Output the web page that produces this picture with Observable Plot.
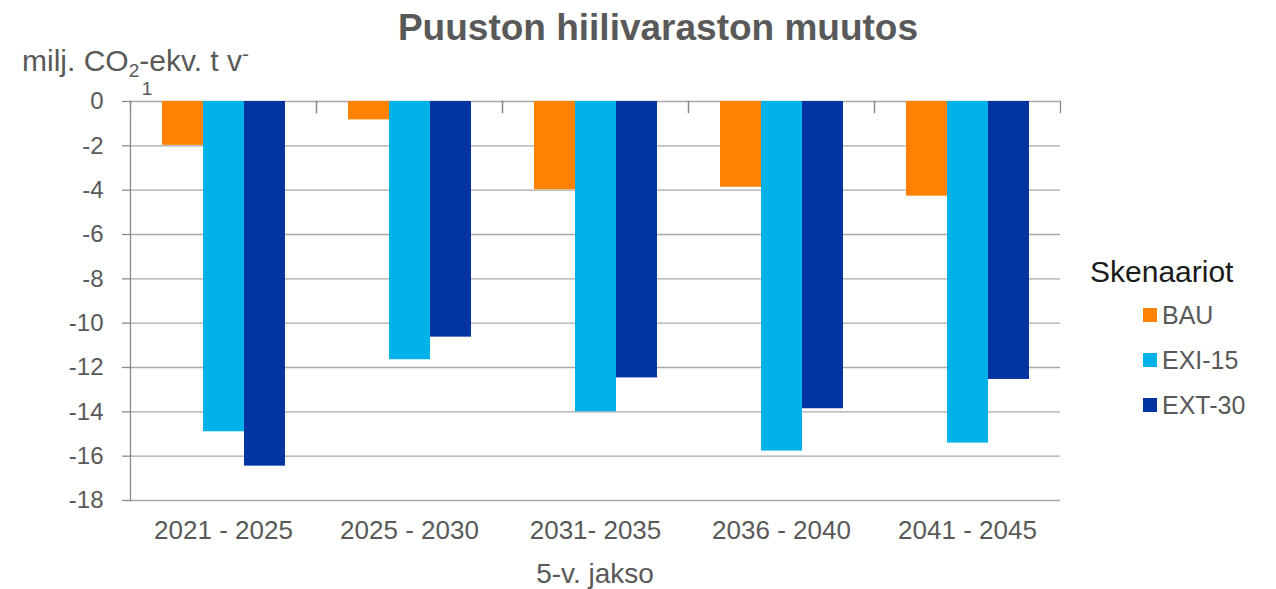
<!DOCTYPE html>
<html>
<head>
<meta charset="utf-8">
<script src="https://cdn.jsdelivr.net/npm/d3@7"></script>
<script src="https://cdn.jsdelivr.net/npm/@observablehq/plot@0.6"></script>
<style>
  html, body { margin: 0; padding: 0; background: #fff; }
  #wrap { position: relative; width: 1276px; height: 589px; font-family: "Liberation Sans", Arial, sans-serif; }
  #wrap > svg { position: absolute; left: 0; top: 0; }
</style>
</head>
<body>
<div id="wrap"></div>
<script>
const periods = ["2021 - 2025", "2025 - 2030", "2031- 2035", "2036 - 2040", "2041 - 2045"];
const scenarios = ["BAU", "EXI-15", "EXT-30"];
const bau   = [-1.98, -0.83, -3.98, -3.87, -4.27];
const exi15 = [-14.9, -11.65, -14.0, -15.77, -15.41];
const ext30 = [-16.45, -10.63, -12.47, -13.86, -12.54];
const yTicks = [0, -2, -4, -6, -8, -10, -12, -14, -16, -18];
const colors = ["#ff8300", "#00b2e8", "#0234a2"];
const titleText = "Puuston hiilivaraston muutos";
const xTitle = "5-v. jakso";
const legendTitle = "Skenaariot";

const series = [bau, exi15, ext30];
const table = [];
periods.forEach((p, i) => scenarios.forEach((s, j) => table.push({period: p, scenario: s, value: series[j][i]})));

const W = 1276, H = 589;
const font = '"Liberation Sans", Arial, sans-serif';

const chart = Plot.plot({
  width: W, height: H,
  marginLeft: 128, marginRight: 214, marginTop: 101, marginBottom: 89,
  style: {fontFamily: font, background: "transparent", overflow: "visible"},
  fx: {domain: periods, padding: 0, label: null},
  x: {domain: scenarios, paddingInner: 0, paddingOuter: 0.75, axis: null},
  y: {domain: [-18, 0], label: null},
  color: {domain: scenarios, range: colors},
  marks: [
    Plot.ruleY(yTicks, {stroke: "#a9a9a9", strokeWidth: 1.3}),
    Plot.barY(table, {fx: "period", x: "scenario", y: "value", fill: "scenario", inset: 0}),
    Plot.frame({anchor: "left", stroke: "#8a8a8a", strokeWidth: 1.3, insetBottom: 388}),
    Plot.frame({anchor: "right", stroke: "#8a8a8a", strokeWidth: 1.3, insetBottom: 388}),
    Plot.frame({anchor: "left", facetAnchor: "left", stroke: "#8a8a8a", strokeWidth: 1.3}),
    Plot.axisY({ticks: yTicks, tickSize: 8, tickPadding: 19, fontSize: 24, fill: "#595959", stroke: "#8a8a8a", strokeWidth: 1.3, label: null, tickFormat: d => String(d).replace("\u2212", "-")}),
    Plot.axisFx({anchor: "bottom", tickSize: 0, tickPadding: 20, fontSize: 26, fill: "#595959", label: null})
  ]
});
const wrap = document.getElementById("wrap");
wrap.appendChild(chart);

// text overlay
const ov = d3.select(wrap).append("svg").attr("width", W).attr("height", H).attr("font-family", font);
ov.append("text").attr("x", 658).attr("y", 40).attr("text-anchor", "middle").attr("font-size", 37).attr("font-weight", "bold").attr("fill", "#595959").text(titleText);
const yl = ov.append("text").attr("x", 22).attr("y", 71).attr("font-size", 30).attr("fill", "#595959");
yl.append("tspan").text("milj. CO");
yl.append("tspan").attr("font-size", 19).attr("dy", 6).text("2");
yl.append("tspan").attr("dy", -6).text("-ekv. t v");
yl.append("tspan").attr("font-size", 21).attr("dy", -10).text("-");
ov.append("text").attr("x", 147).attr("y", 95).attr("text-anchor", "middle").attr("font-size", 19).attr("fill", "#595959").text("1");
ov.append("text").attr("x", 595).attr("y", 583).attr("text-anchor", "middle").attr("font-size", 28).attr("fill", "#595959").text(xTitle);
ov.append("text").attr("x", 1090).attr("y", 282).attr("font-size", 30).attr("fill", "#1a1a1a").text(legendTitle);
scenarios.forEach((s, i) => {
  const cy = 315 + i * 45;
  ov.append("rect").attr("x", 1143).attr("y", cy - 7).attr("width", 14).attr("height", 14).attr("fill", colors[i]);
  ov.append("text").attr("x", 1162).attr("y", cy + 9).attr("font-size", 25).attr("fill", "#595959").text(s);
});
</script>
</body>
</html>
